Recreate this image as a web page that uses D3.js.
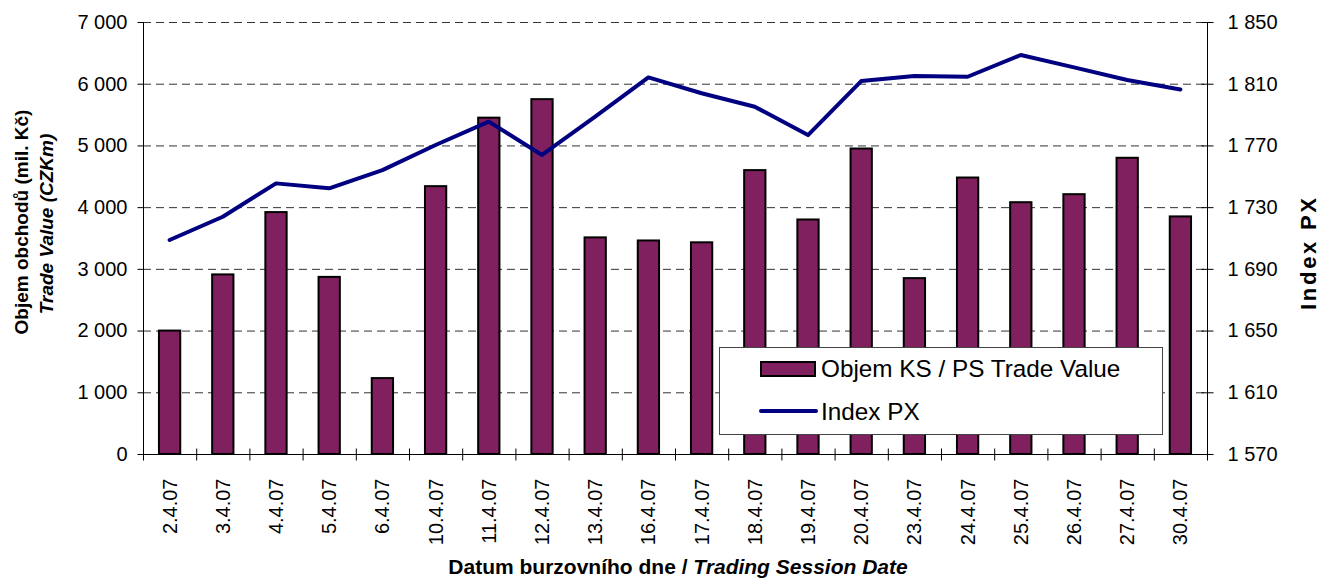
<!DOCTYPE html>
<meta charset="utf-8">
<script src="https://cdn.jsdelivr.net/npm/d3@7"></script>
<style>
body { margin: 0; background: #fff; }
text { font-family: Arial, "Liberation Sans", sans-serif; fill: #000; }
.grid line { stroke: #333; stroke-width: 1px; stroke-dasharray: 8,5; }
.bar { fill: #80205f; stroke: #000; stroke-width: 2px; }
.px { fill: none; stroke: #000080; stroke-width: 4px; stroke-linejoin: round; stroke-linecap: round; }
</style>
<body>
<script>

// trading days, April 2007
var dates = ["2.4.07","3.4.07","4.4.07","5.4.07","6.4.07","10.4.07","11.4.07","12.4.07",
             "13.4.07","16.4.07","17.4.07","18.4.07","19.4.07","20.4.07","23.4.07","24.4.07",
             "25.4.07","26.4.07","27.4.07","30.4.07"];

// trade value, CZK m
var tradeValue = [2000, 2910, 3920, 2870, 1230, 4340, 5450, 5750, 3510, 3460,
                  3430, 4600, 3800, 4950, 2850, 4480, 4080, 4210, 4800, 3850];

// PX index close
var indexPX = [1708.7, 1723.8, 1745.4, 1742.2, 1754.0, 1770.3, 1785.4, 1763.8, 1788.6, 1814.1,
               1803.8, 1795.1, 1776.7, 1811.7, 1815.0, 1814.5, 1828.6, 1820.6, 1812.4, 1806.3];

var leftTicks = [0, 1000, 2000, 3000, 4000, 5000, 6000, 7000];
var rightTicks = [1570, 1610, 1650, 1690, 1730, 1770, 1810, 1850];

var width = 1321, height = 579;
var x0 = 143, x1 = 1207, yTop = 22, yBot = 454;

var svg = d3.select("body").append("svg")
    .attr("width", width)
    .attr("height", height);

var x = d3.scaleBand().domain(dates).range([x0, x1]);
var yL = d3.scaleLinear().domain([0, 7000]).range([yBot, yTop]);
var yR = d3.scaleLinear().domain([1570, 1850]).range([yBot, yTop]);

var fmt = d3.formatLocale({decimal: ",", thousands: " ", grouping: [3], currency: ["", ""]}).format(",d");

// gridlines
svg.append("g").attr("class", "grid")
  .selectAll("line")
  .data(leftTicks.filter(function(d) { return d > 0; }))
  .enter().append("line")
    .attr("x1", x0).attr("x2", x1)
    .attr("y1", function(d) { return yL(d) + 0.5; })
    .attr("y2", function(d) { return yL(d) + 0.5; });

// bars
var bw = x.bandwidth() * 0.4;
svg.append("g")
  .selectAll("rect")
  .data(tradeValue)
  .enter().append("rect")
    .attr("class", "bar")
    .attr("x", function(d, i) { return x(dates[i]) + x.bandwidth() / 2 - bw / 2; })
    .attr("y", function(d) { return yL(d); })
    .attr("width", bw)
    .attr("height", function(d) { return yBot - yL(d); });

// left axis
var gl = svg.append("g").attr("transform", "translate(" + (x0 + 0.5) + ",0)")
  .call(d3.axisLeft(yL).tickValues(leftTicks).tickFormat(fmt).tickSize(6).tickPadding(10));

// right axis
var gr = svg.append("g").attr("transform", "translate(" + (x1 + 0.5) + ",0)")
  .call(d3.axisRight(yR).tickValues(rightTicks).tickFormat(fmt).tickSize(6).tickPadding(14));
gr.selectAll(".tick line").attr("x1", -6);

// bottom axis
var gb = svg.append("g").attr("transform", "translate(0," + (yBot + 0.5) + ")");
gb.append("line").attr("x1", x0).attr("x2", x1).attr("stroke", "#000");
gb.selectAll("line.t")
  .data(d3.range(dates.length + 1))
  .enter().append("line").attr("class", "t")
    .attr("x1", function(d) { return x0 + d * x.step() + 0.5; })
    .attr("x2", function(d) { return x0 + d * x.step() + 0.5; })
    .attr("y1", -6).attr("y2", 6)
    .attr("stroke", "#000");
gb.selectAll("text")
  .data(dates)
  .enter().append("text")
    .attr("transform", function(d) {
      return "translate(" + (x(d) + x.bandwidth() / 2) + ",24) rotate(-90)";
    })
    .attr("dy", "0.35em")
    .attr("text-anchor", "end")
    .style("font-size", "20px")
    .text(function(d) { return d; });

[gl, gr].forEach(function(g) {
  g.select(".domain").attr("stroke", "#000");
  g.selectAll(".tick line").attr("stroke", "#000");
  g.selectAll("text").style("font-size", "20px").style("font-family", null).attr("fill", "#000");
});
gl.selectAll(".domain").attr("d", "M0," + yTop + "V" + yBot);
gr.selectAll(".domain").attr("d", "M0," + yTop + "V" + yBot);

// index line
var line = d3.line()
    .x(function(d, i) { return x(dates[i]) + x.bandwidth() / 2; })
    .y(function(d) { return yR(d); });
svg.append("path").attr("class", "px").attr("d", line(indexPX));

// axis titles
svg.append("text")
    .attr("transform", "translate(28,222) rotate(-90)")
    .attr("text-anchor", "middle")
    .style("font-size", "19px").style("font-weight", "bold")
    .text("Objem obchodů (mil. Kč)");
svg.append("text")
    .attr("transform", "translate(53,224) rotate(-90)")
    .attr("text-anchor", "middle")
    .style("font-size", "19px").style("font-weight", "bold").style("font-style", "italic")
    .text("Trade Value (CZKm)");

svg.append("text")
    .attr("transform", "translate(1316,254) rotate(-90)")
    .attr("text-anchor", "middle")
    .attr("textLength", 112).attr("lengthAdjust", "spacing")
    .style("font-size", "22px").style("font-weight", "bold")
    .text("Index PX");

var xt = svg.append("text")
    .attr("x", 678).attr("y", 574)
    .attr("text-anchor", "middle")
    .style("font-size", "21px").style("font-weight", "bold");
xt.append("tspan").text("Datum burzovního dne / ");
xt.append("tspan").style("font-style", "italic").text("Trading Session Date");

// legend
var lg = svg.append("g");
lg.append("rect")
    .attr("x", 719.5).attr("y", 347.5).attr("width", 443).attr("height", 87)
    .attr("fill", "#fff").attr("stroke", "#444").attr("stroke-width", 1);
lg.append("rect").attr("class", "bar")
    .attr("x", 761).attr("y", 362).attr("width", 54).attr("height", 14);
lg.append("text").attr("x", 821).attr("y", 377)
    .style("font-size", "24.3px").text("Objem KS / PS Trade Value");
lg.append("line")
    .attr("x1", 761).attr("x2", 816).attr("y1", 411).attr("y2", 411)
    .attr("stroke", "#000080").attr("stroke-width", 4).attr("stroke-linecap", "round");
lg.append("text").attr("x", 821).attr("y", 420)
    .style("font-size", "24.3px").text("Index PX");

</script>
</body>
